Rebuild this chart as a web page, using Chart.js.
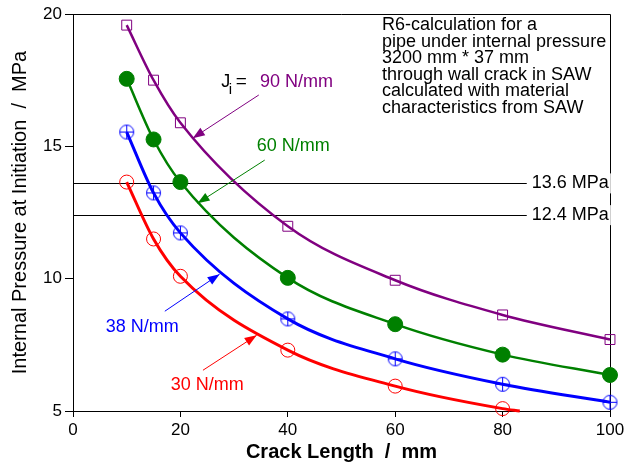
<!DOCTYPE html>
<html>
<head>
<meta charset="utf-8">
<script src="https://cdn.jsdelivr.net/npm/chart.js@4.4.1/dist/chart.umd.min.js"></script>
<style>
  body { margin: 0; background: #fff; }
  #grafico-box { width: 624px; height: 468px; }
</style>
</head>
<body>
<div id="grafico-box"><canvas id="grafico" width="624" height="468"></canvas></div>
<script>
// crack length (mm) and initiation pressure (MPa) per J_i
const comprimentos = [10, 15, 20, 40, 60, 80, 100];
const p90 = [19.58, 17.5, 15.89, 11.98, 9.94, 8.63, 7.70];
const p60 = [17.55, 15.26, 13.65, 10.03, 8.28, 7.13, 6.36];
const p38 = [15.54, 13.24, 11.73, 8.48, 6.97, 6.01, 5.33];
// red fit curve runs a bit past the last point
const comprimentos30 = [10, 15, 20, 40, 60, 80, 83.2];
const p30 = [13.65, 11.50, 10.09, 7.30, 5.94, 5.09, 5.0];

const limites = [13.6, 12.4];
const limitesTexto = ['13.6 MPa', '12.4 MPa'];

const rotulos = ['90 N/mm', '60 N/mm', '38 N/mm', '30 N/mm'];
const cores = ['#800080', '#008000', '#0000ff', '#ff0000'];

const caixaTexto = [
    'R6-calculation for a',
    'pipe under internal pressure',
    '3200 mm * 37 mm',
    'through wall crack in SAW',
    'calculated with material',
    'characteristics from SAW'
];

const FONTE = '"Liberation Sans", Arial, sans-serif';

function pontos(xs, ys) {
    return ys.map((y, i) => ({ x: xs[i], y: y }));
}

// circle with a cross for the 38 N/mm series
function marcaCruz() {
    const c = document.createElement('canvas');
    c.width = 17; c.height = 17;
    const g = c.getContext('2d');
    g.strokeStyle = '#0000ff';
    g.lineWidth = 1;
    g.beginPath();
    g.arc(8.5, 8.5, 7, 0, Math.PI * 2);
    g.stroke();
    g.beginPath();
    g.moveTo(1.5, 8.5); g.lineTo(15.5, 8.5);
    g.moveTo(8.5, 1.5); g.lineTo(8.5, 15.5);
    g.stroke();
    return c;
}

function seta(ctx, x1, y1, x2, y2, cor) {
    ctx.save();
    ctx.strokeStyle = cor;
    ctx.fillStyle = cor;
    ctx.lineWidth = 1;
    ctx.beginPath();
    ctx.moveTo(x1, y1);
    ctx.lineTo(x2, y2);
    ctx.stroke();
    const ang = Math.atan2(y2 - y1, x2 - x1);
    const tam = 12, larg = 4.5;
    ctx.beginPath();
    ctx.moveTo(x2, y2);
    ctx.lineTo(x2 - tam * Math.cos(ang) + larg * Math.sin(ang), y2 - tam * Math.sin(ang) - larg * Math.cos(ang));
    ctx.lineTo(x2 - tam * Math.cos(ang) - larg * Math.sin(ang), y2 - tam * Math.sin(ang) + larg * Math.cos(ang));
    ctx.closePath();
    ctx.fill();
    ctx.restore();
}

const anotacoes = {
    id: 'anotacoes',
    beforeDatasetsDraw(chart) {
        const ctx = chart.ctx;
        const xs = chart.scales.x, ys = chart.scales.y;
        const a = chart.chartArea;
        ctx.save();
        ctx.strokeStyle = '#000';
        ctx.lineWidth = 1;
        // frame top + right
        ctx.beginPath();
        ctx.moveTo(a.left, a.top + 0.5);
        ctx.lineTo(a.right + 0.5, a.top + 0.5);
        ctx.lineTo(a.right + 0.5, a.bottom);
        ctx.stroke();
        // reference pressures
        limites.forEach(v => {
            const y = Math.round(ys.getPixelForValue(v)) + 0.5;
            ctx.beginPath();
            ctx.moveTo(a.left, y);
            ctx.lineTo(xs.getPixelForValue(84.5), y);
            ctx.stroke();
        });
        ctx.restore();
    },
    afterDatasetsDraw(chart) {
        const ctx = chart.ctx;
        const xs = chart.scales.x, ys = chart.scales.y;
        const px = v => xs.getPixelForValue(v);
        const py = v => ys.getPixelForValue(v);
        ctx.save();
        ctx.textBaseline = 'middle';
        ctx.textAlign = 'left';

        // labels at the end of reference lines
        ctx.font = '18px ' + FONTE;
        limites.forEach((v, i) => {
            const y = py(v);
            const x0 = px(84.5) + 5;
            const w = ctx.measureText(limitesTexto[i]).width;
            ctx.fillStyle = '#fff';
            ctx.fillRect(x0 - 2, y - 10, w + 4, 20);
            ctx.fillStyle = '#000';
            ctx.fillText(limitesTexto[i], x0, y);
        });

        // J_i = label
        ctx.fillStyle = '#000';
        ctx.font = '18px ' + FONTE;
        ctx.fillText('J', px(27.6), py(17.43));
        ctx.font = '15px ' + FONTE;
        ctx.fillText('i', px(29.0), py(17.43) + 8);
        ctx.font = '19px ' + FONTE;
        ctx.fillText('=', px(30.3), py(17.43));

        // series labels + arrows
        const pos = [[34.8, 17.43], [34.2, 15.0], [6.1, 8.17], [18.2, 5.97]];
        const setas = [
            [34.6, 16.94, 22.3, 15.31],
            [35.7, 14.48, 23.2, 12.85],
            [17.1, 8.77, 27.3, 10.17],
            [24.2, 6.54, 34.2, 7.86]
        ];
        ctx.font = '18px ' + FONTE;
        rotulos.forEach((t, i) => {
            ctx.fillStyle = cores[i];
            ctx.fillText(t, px(pos[i][0]), py(pos[i][1]));
            const s = setas[i];
            seta(ctx, px(s[0]), py(s[1]), px(s[2]), py(s[3]), cores[i]);
        });

        // description text
        ctx.fillStyle = '#000';
        ctx.font = '18px ' + FONTE;
        caixaTexto.forEach((l, i) => {
            ctx.fillText(l, 382, 25 + i * 16.6);
        });
        ctx.restore();
    }
};

const estiloLinha = {
    showLine: true,
    cubicInterpolationMode: 'monotone',
    borderWidth: 2.5,
    pointBorderWidth: 1
};

new Chart(document.getElementById('grafico'), {
    type: 'scatter',
    data: {
        datasets: [
            Object.assign({}, estiloLinha, {
                label: rotulos[0],
                data: pontos(comprimentos, p90),
                borderColor: cores[0],
                pointStyle: 'rect',
                pointRadius: 7,
                pointBackgroundColor: 'rgba(255,255,255,0)',
                pointBorderColor: cores[0]
            }),
            Object.assign({}, estiloLinha, {
                label: rotulos[1],
                data: pontos(comprimentos, p60),
                borderColor: cores[1],
                pointStyle: 'circle',
                pointRadius: 7.5,
                pointBackgroundColor: cores[1],
                pointBorderColor: cores[1]
            }),
            Object.assign({}, estiloLinha, {
                label: rotulos[2],
                data: pontos(comprimentos, p38),
                borderColor: cores[2],
                borderWidth: 3,
                pointStyle: marcaCruz()
            }),
            Object.assign({}, estiloLinha, {
                label: rotulos[3],
                data: pontos(comprimentos30, p30),
                borderColor: cores[3],
                borderWidth: 3,
                pointStyle: 'circle',
                pointRadius: [7, 7, 7, 7, 7, 7, 0],
                pointBackgroundColor: 'rgba(255,255,255,0)',
                pointBorderColor: cores[3]
            })
        ]
    },
    options: {
        responsive: false,
        animation: false,
        clip: false,
        layout: { padding: { top: 14, right: 14, left: 0, bottom: 0 } },
        plugins: {
            legend: { display: false },
            tooltip: { enabled: false }
        },
        scales: {
            x: {
                type: 'linear',
                min: 0, max: 100,
                afterFit(s) { s.height = 57; s.paddingRight = 0; },
                ticks: { stepSize: 20, color: '#000', font: { size: 17, family: FONTE }, padding: 3, maxRotation: 0 },
                grid: { drawOnChartArea: false, tickLength: 6, color: '#000' },
                border: { color: '#000', width: 1 },
                title: {
                    display: true,
                    text: 'Crack Length  /  mm',
                    color: '#000',
                    font: { size: 20, weight: 'bold', family: FONTE },
                    padding: { top: 0, bottom: 4 }
                }
            },
            y: {
                min: 5, max: 20,
                afterFit(s) { s.width = 73; },
                ticks: { stepSize: 5, color: '#000', font: { size: 17, family: FONTE }, padding: 3 },
                grid: { drawOnChartArea: false, tickLength: 8, color: '#000' },
                border: { color: '#000', width: 1 },
                title: {
                    display: true,
                    text: 'Internal Pressure at Initiation  /  MPa',
                    color: '#000',
                    font: { size: 20, family: FONTE },
                    padding: { top: 8, bottom: 0 }
                }
            }
        }
    },
    plugins: [anotacoes]
});
</script>
</body>
</html>
